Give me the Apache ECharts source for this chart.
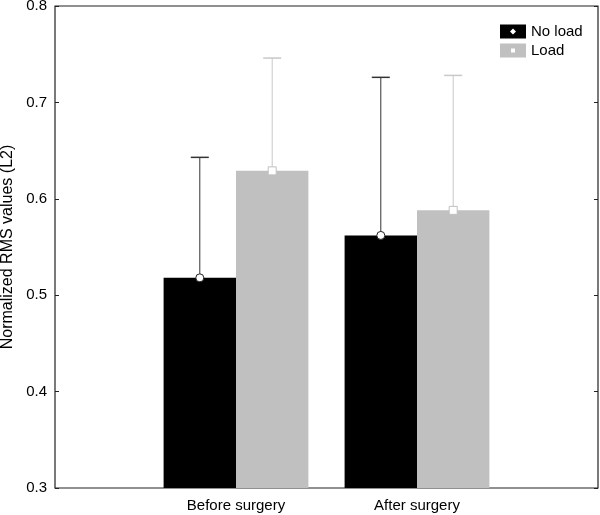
<!DOCTYPE html>
<html><head><meta charset="utf-8">
<script src="https://cdn.jsdelivr.net/npm/echarts@6/dist/echarts.min.js"></script>
<style>html,body{margin:0;padding:0;background:#fff}#c{width:600px;height:515px}</style>
</head><body><div id="c"></div>
<script>
var categories = ['', 'Before surgery', 'After surgery', ''];
var noLoadMean = [null, 0.518, 0.562, null];
var loadMean = [null, 0.629, 0.588, null];
var noLoadSD = [null, 0.125, 0.164, null];
var loadSD = [null, 0.117, 0.140, null];
var yTicks = [0.3, 0.4, 0.5, 0.6, 0.7, 0.8];

var FONT = 'Liberation Sans, Arial, sans-serif';
function errData(mean, sd) {
  var out = [];
  for (var i = 0; i < mean.length; i++) {
    if (mean[i] != null) out.push([i, mean[i], mean[i] + sd[i]]);
  }
  return out;
}
function errSeries(name, mean, sd, side, lineColor, marker) {
  return {
    type: 'custom', name: name + ' err', z: 10,
    data: errData(mean, sd),
    renderItem: function (params, api) {
      var idx = api.value(0);
      var band = api.size([1, 0])[0];
      var off = side * band * 0.2;
      var p0 = api.coord([idx, api.value(1)]);
      var p1 = api.coord([idx, api.value(2)]);
      var x = p0[0] + off;
      var children = [
        { type: 'line', shape: { x1: x, y1: p0[1], x2: x, y2: p1[1] }, style: { stroke: lineColor, lineWidth: 1 } },
        { type: 'line', shape: { x1: x - 9, y1: p1[1], x2: x + 9, y2: p1[1] }, style: { stroke: lineColor, lineWidth: 1.5 } }
      ];
      if (marker === 'circle') {
        children.push({ type: 'circle', shape: { cx: x, cy: p0[1], r: 4 }, style: { fill: '#fff', stroke: '#222', lineWidth: 1 } });
      } else {
        children.push({ type: 'rect', shape: { x: x - 4, y: p0[1] - 4, width: 8, height: 8 }, style: { fill: '#fff', stroke: '#c0c0c0', lineWidth: 1 } });
      }
      return { type: 'group', children: children };
    }
  };
}

var chart = echarts.init(document.getElementById('c'), null, { renderer: 'canvas' });
chart.setOption({
  animation: false,
  backgroundColor: '#fff',
  textStyle: { fontFamily: FONT },
  grid: { left: 55, right: 2, top: 6, bottom: 27, outerBoundsMode: 'none', containLabel: false, show: true, borderColor: '#222', borderWidth: 1.2, backgroundColor: 'transparent' },
  legend: {
    left: 500, top: 24, orient: 'vertical', itemGap: 4, itemWidth: 26, itemHeight: 14, padding: 0,
    textStyle: { fontSize: 15, color: '#000', fontFamily: FONT },
    data: [
      { name: 'No load', icon: 'path://M0,0H26V14H0Z M13,4L10,7L13,10L16,7Z' },
      { name: 'Load', icon: 'path://M0,0H26V14H0Z M11,5V9H15V5Z' }
    ]
  },
  xAxis: {
    type: 'category', data: categories, boundaryGap: false,
    axisLine: { show: false }, axisTick: { show: false }, splitLine: { show: false },
    axisLabel: { fontSize: 15, color: '#000', margin: 10, fontFamily: FONT, interval: 0 }
  },
  yAxis: [{
    type: 'value', min: 0.3, max: 0.8, interval: 0.1,
    name: 'Normalized RMS values (L2)', nameLocation: 'middle', nameGap: 39,
    nameTextStyle: { fontSize: 16, color: '#000', fontFamily: FONT },
    axisLine: { show: false }, splitLine: { show: false },
    axisTick: { show: true, inside: true, length: 4, lineStyle: { color: '#222' } },
    axisLabel: { fontSize: 15, color: '#000', margin: 8, fontFamily: FONT, formatter: function (v) { return v.toFixed(1); } }
  }, {
    type: 'value', min: 0.3, max: 0.8, interval: 0.1, position: 'right',
    axisLine: { show: false }, splitLine: { show: false }, axisLabel: { show: false },
    axisTick: { show: true, inside: true, length: 4, lineStyle: { color: '#222' } }
  }],
  series: [
    { type: 'bar', name: 'No load', data: noLoadMean, barWidth: '40%', barGap: '0%', itemStyle: { color: '#000' } },
    { type: 'bar', name: 'Load', data: loadMean, barWidth: '40%', barGap: '0%', itemStyle: { color: '#c0c0c0' } },
    errSeries('No load', noLoadMean, noLoadSD, -1, '#333', 'circle'),
    errSeries('Load', loadMean, loadSD, 1, '#c8c8c8', 'square')
  ]
});
</script></body></html>
